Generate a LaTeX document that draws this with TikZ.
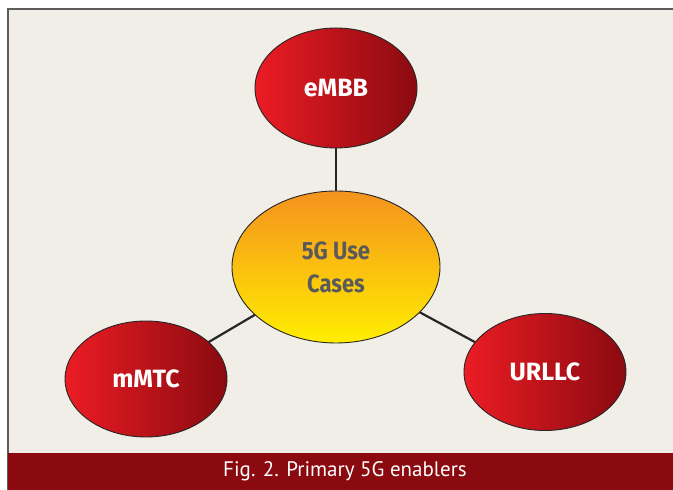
\documentclass[tikz,border=0pt]{standalone}
\usepackage{fontspec}
\setmainfont{Fira Sans}
\newfontfamily\capfont{PT Sans}
\usetikzlibrary{shapes.geometric,backgrounds,calc}
\definecolor{cream}{HTML}{F1EEE7}
\definecolor{barred}{HTML}{8A0A0F}
\definecolor{redA}{HTML}{EC1C24}
\definecolor{redB}{HTML}{8A0A10}
\definecolor{orA}{HTML}{F5921E}
\definecolor{yeB}{HTML}{FFEE00}
\definecolor{txtgray}{HTML}{5A5A5A}
\definecolor{framegray}{HTML}{5C5C5C}
\tikzset{
  redell/.style={ellipse, draw=black!85, line width=0.9pt, left color=redA, right color=redB,
    minimum width=162pt, minimum height=118pt, inner sep=0pt,
    text=white, font=\fontsize{25}{28}\selectfont\bfseries},
  centerell/.style={ellipse, draw=black!85, line width=0.9pt, top color=orA, bottom color=yeB,
    minimum width=208pt, minimum height=152pt, inner sep=0pt, align=center,
    text=txtgray, font=\fontsize{25}{33}\selectfont\bfseries},
  link/.style={draw=black!85, line width=2.2pt}
}
\begin{document}
\begin{tikzpicture}[x=1pt,y=1pt]
\useasboundingbox (0,0) rectangle (673,490);
\node[centerell] (c) at (336,223) {\scalebox{0.88}[1]{5G Use}\\\scalebox{0.88}[1]{Cases}};
\node[redell, minimum height=120pt] (e) at (336,402) {eMBB};
\node[redell, minimum height=116pt] (m) at (146,111) {mMTC};
\node[redell, minimum height=117pt] (u) at (545,118) {URLLC};
\begin{scope}[on background layer]
  \fill[white] (0,0) rectangle (673,490);
  \fill[cream] (8,0) rectangle (673,481);
  \draw[framegray, line width=1.5pt] (8,0) -- (8,481) -- (673,481);
  \fill[barred] (8,0) rectangle (673,37);
  \draw[link] (c.center) -- (e.center);
  \draw[link] (c.center) -- (m.center);
  \draw[link] (c.center) -- ($(u.center)+(0,-8)$);
\end{scope}
\node[text=white, font=\capfont\fontsize{21}{24}\selectfont, inner sep=0pt] (cap) at (345,19) {Fig. 2. Primary 5G enablers};
\end{tikzpicture}
\end{document}
